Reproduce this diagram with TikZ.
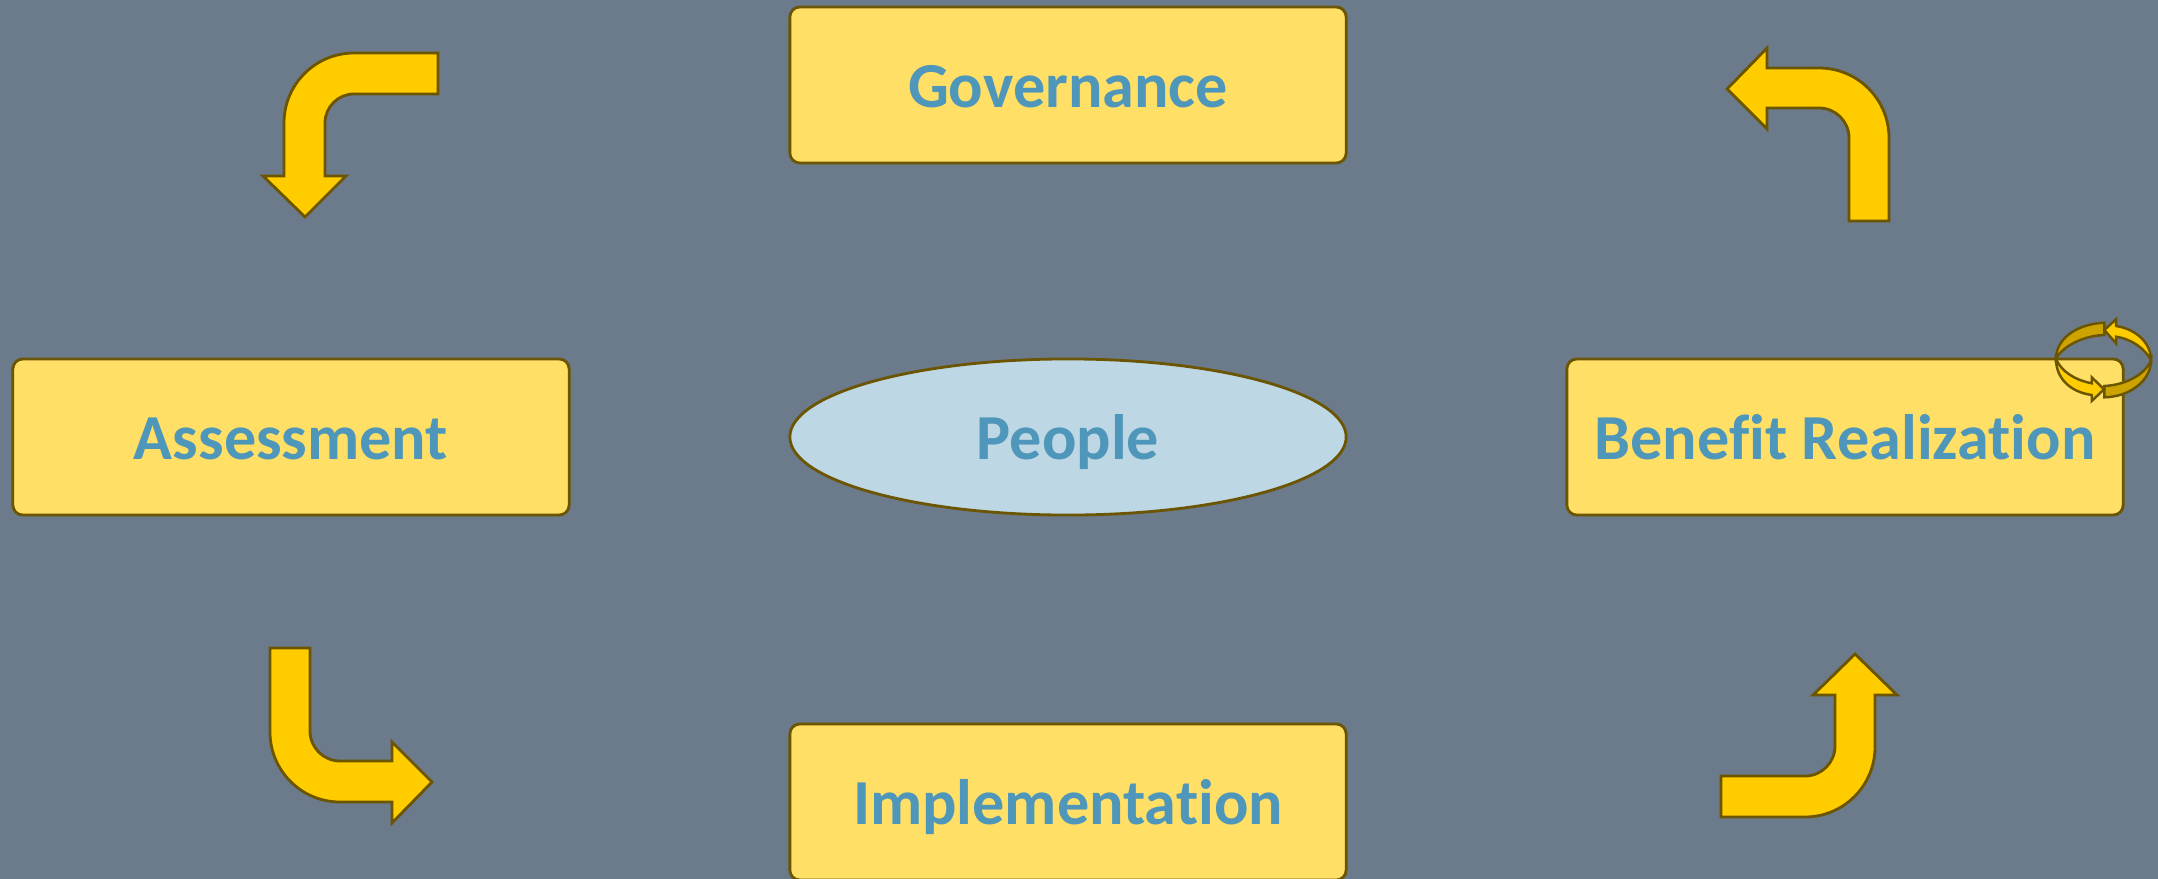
\documentclass[tikz,border=0pt]{standalone}
\usepackage{fontspec}
\setmainfont[Ligatures=NoCommon]{Carlito}
\usetikzlibrary{shapes.geometric}
\definecolor{slatebg}{HTML}{6B7B8C}
\definecolor{boxfill}{HTML}{FFDF65}
\definecolor{edgebrown}{HTML}{6B5500}
\definecolor{arrowgold}{HTML}{FFCC00}
\definecolor{darkgold}{HTML}{CCA300}
\definecolor{paleblue}{HTML}{BDD7E4}
\definecolor{labelblue}{HTML}{4F97BA}
\tikzset{
    stagebox/.style={draw=edgebrown, fill=boxfill, line width=0.8pt, rounded corners=0.1cm,
        minimum width=5.56cm, minimum height=1.56cm, inner sep=0pt, text=labelblue,
        text height=0.5cm, text depth=0.06cm,
        font=\fontsize{18.25}{22}\selectfont\bfseries},
    hubellipse/.style={stagebox, ellipse, fill=paleblue},
    bentarrow/.style={draw=edgebrown, fill=arrowgold, line width=0.8pt, line join=miter},
    cyclearrow/.style={bentarrow, line width=0.7pt},
    cycleband/.style={cyclearrow, fill=darkgold}
}
\begin{document}
\begin{tikzpicture}[x=0.01cm,y=0.01cm]
    \useasboundingbox (0,0) rectangle (2158,-879);
    \fill [slatebg] (0,0) rectangle (2158,-879);
    \clip (0,0) rectangle (2158,-879);
    % boxes
    \node [stagebox] (governance) at (1068,-85) {Governance};
    \node [stagebox] (assessment) at (291,-437) {Assessment};
    \node [hubellipse] (people) at (1068,-437) {People};
    \node [stagebox] (benefit) at (1845,-437) {Benefit Realization};
    \node [stagebox] (implementation) at (1068,-802) {Implementation};
    % bent arrows
    \draw [bentarrow] (438,-53) -- (354,-53) arc (90:180:70) -- (284,-176) -- (263,-176)
        -- (305,-217) -- (346,-176) -- (325,-176) -- (325,-123) arc (180:90:29) -- (438,-94) -- cycle;
    \draw [bentarrow] (1889,-221) -- (1889,-138) arc (0:90:70) -- (1767,-68) -- (1767,-48)
        -- (1727,-89) -- (1767,-129) -- (1767,-108) -- (1819,-108) arc (90:0:30) -- (1849,-221) -- cycle;
    \draw [bentarrow] (270,-648) -- (270,-732) arc (180:270:70) -- (392,-802) -- (392,-823)
        -- (432,-782) -- (392,-742) -- (392,-761) -- (340,-761) arc (270:180:30) -- (310,-648) -- cycle;
    \draw [bentarrow] (1721,-776) -- (1805,-776) arc (270:360:30) -- (1835,-695) -- (1813,-695)
        -- (1855,-654) -- (1897,-695) -- (1875,-695) -- (1875,-747) arc (0:-90:70) -- (1721,-817) -- cycle;
    % cycle symbol
    \draw [cycleband] (2104.3,-322.7) .. controls (2075,-324) and (2056,-340) .. (2056,-358.3)
        .. controls (2062,-348) and (2080,-336) .. (2104.3,-335) -- cycle;
    \draw [cyclearrow] (2104.3,-330) -- (2116,-319.3) -- (2116,-326)
        .. controls (2136,-329) and (2151,-343) .. (2151,-360)
        .. controls (2145,-349) and (2132,-339) .. (2116,-336.7) -- (2116,-343.3) -- cycle;
    \draw [cycleband] (2151,-360) .. controls (2151,-382) and (2128,-397) .. (2104.3,-397.3)
        -- (2104.3,-386) .. controls (2125,-385) and (2145,-375) .. (2151,-360) -- cycle;
    \draw [cyclearrow] (2056,-359.3) .. controls (2062,-372) and (2075,-380) .. (2091.7,-383.3)
        -- (2091.7,-377.3) -- (2104,-389.3) -- (2091.7,-401) -- (2091.7,-395)
        .. controls (2070,-392) and (2056,-378) .. (2056,-359.3) -- cycle;
\end{tikzpicture}
\end{document}
